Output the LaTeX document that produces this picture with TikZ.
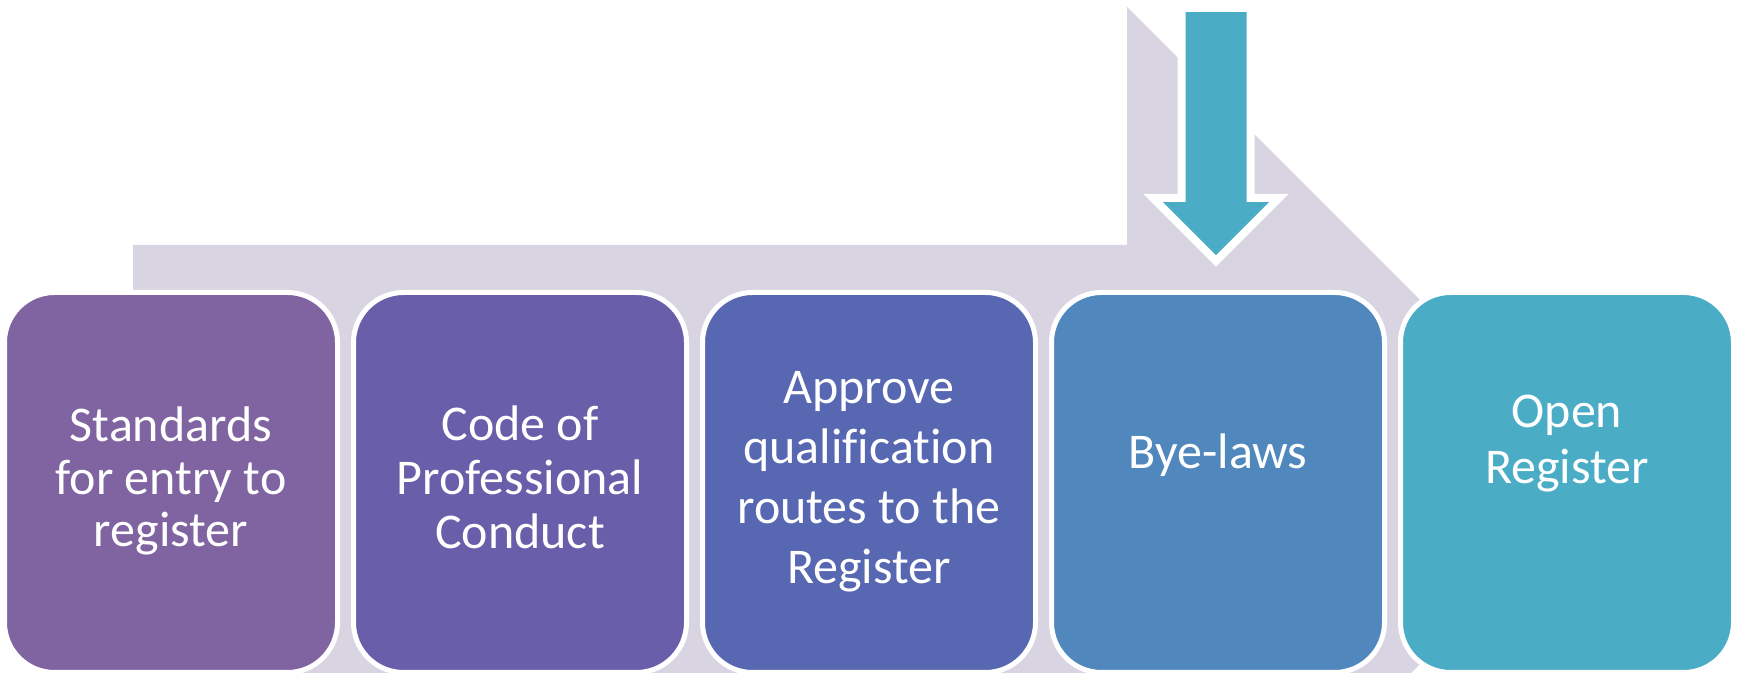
\documentclass[tikz,border=0pt]{standalone}
\usepackage{fontspec}
\setmainfont[Ligatures=NoCommon]{Carlito}
\usetikzlibrary{positioning,shapes.arrows,shadows}
\definecolor{backarrow}{RGB}{216,212,226}
\definecolor{stepone}{RGB}{128,100,162}
\definecolor{steptwo}{RGB}{104,94,169}
\definecolor{stepthree}{RGB}{88,103,177}
\definecolor{stepfour}{RGB}{80,135,189}
\definecolor{stepfive}{RGB}{75,172,198}

\begin{document}
\begin{tikzpicture}[x=0.5pt,y=-0.5pt,
	stage/.style={rectangle,rounded corners=25pt,draw=white,line width=2.5pt,outer sep=0pt,minimum width=166.5pt,minimum height=190pt},
	stagetext/.style={text=white,align=center,inner sep=0pt,execute at begin node=\strut,execute at end node=\strut},
	pusharrow/.style={single arrow,shape border rotate=270,fill=stepfive,draw=white,line width=4pt,outer sep=0pt,inner sep=15.25pt,minimum width=59pt,minimum height=126.5pt,single arrow head extend=14.25pt,single arrow tip angle=90,single arrow head indent=0pt,drop shadow={shadow xshift=-0.5pt,shadow yshift=-1.5pt,opacity=0.25}}]
	\useasboundingbox (0,0) rectangle (1737,673);
	\clip (0,0) rectangle (1737,673);
	
	% grey process arrow behind the stages
	\fill[backarrow] (133,245) -- (1127,245) -- (1127,7) -- (1602,482) -- (1127,957) -- (1127,719) -- (133,719) -- cycle;
	
	\node[stage,fill=stepone] (standards) at(171,482.5) {};
	\node[stage,fill=steptwo] (conduct) at(520,482.5) {};
	\node[stage,fill=stepthree] (routes) at(869,482.5) {};
	\node[stage,fill=stepfour] (byelaws) at(1218,482.5) {};
	\node[stage,fill=stepfive] (open) at(1567,482.5) {};
	
	\node[stagetext,font=\fontsize{25}{26.25}\selectfont] (standardstext) at(171,485) {Standards\\for entry to\\register};
	\node[stagetext,font=\fontsize{25}{27}\selectfont] (conducttext) at(520,485) {Code of\\Professional\\Conduct};
	\node[stagetext,font=\fontsize{25}{30}\selectfont] (routestext) at(869,486) {Approve\\qualification\\routes to the\\Register};
	\node[stagetext,font=\fontsize{25}{28}\selectfont] (byelawstext) at(1218,457) {Bye-laws};
	\node[stagetext,font=\fontsize{25}{28}\selectfont] (opentext) at(1567,448) {Open\\Register};
	
	\node[pusharrow,anchor=tip] (push) at(1216,261) {};
	
\end{tikzpicture}
\end{document}
